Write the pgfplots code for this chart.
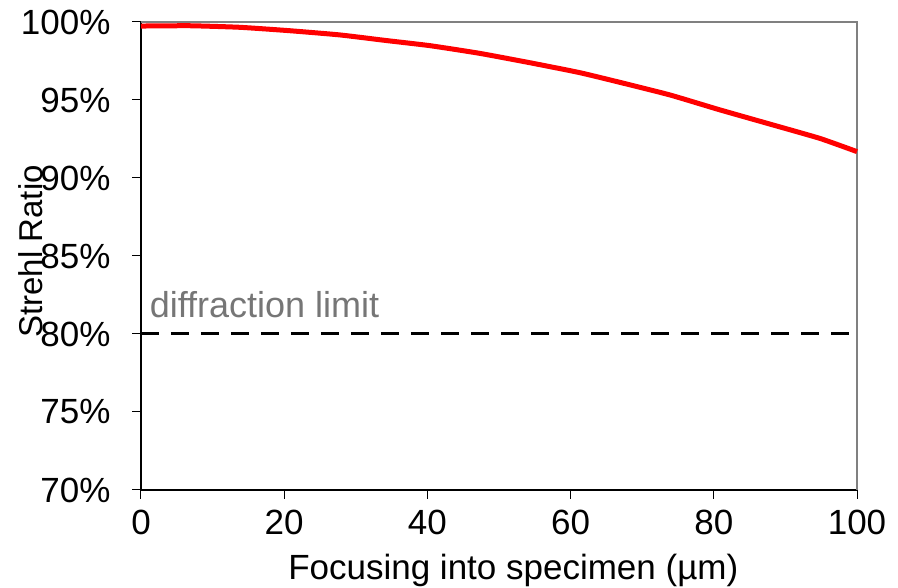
\documentclass[border=0pt]{standalone}
\usepackage{pgfplots}
\pgfplotsset{compat=1.18}
\usepackage{fontspec}
\setmainfont{Liberation Sans}
\definecolor{redline}{RGB}{255,0,0}
\definecolor{axgray}{RGB}{128,128,128}
\definecolor{labgray}{RGB}{118,118,118}
\begin{document}
\begin{tikzpicture}
\path[use as bounding box] (-141pt,-98pt) rectangle (757pt,490pt);
\begin{axis}[
  at={(0,0)}, anchor=south west,
  scale only axis, width=716pt, height=468pt,
  xmin=0, xmax=100, ymin=70, ymax=100,
  xtick={0,20,...,100}, ytick={70,75,...,100},
  yticklabel={\pgfmathprintnumber{\tick}\%},
  /pgf/number format/assume math mode=true,
  tick align=outside, major tick length=9pt,
  tick style={black, line width=1pt},
  every tick label/.append style={font=\fontsize{35}{40}\selectfont, black},
  xticklabel style={yshift=-8pt},
  yticklabel style={xshift=-18pt},
  axis line style={line width=1.3pt},
  axis x line*=bottom, axis y line*=left,
  xlabel={Focusing into specimen (µm)},
  xlabel style={font=\fontsize{35}{40}\selectfont, at={(axis description cs:0.52,0)}, anchor=base, yshift=-90pt},
  clip=false,
]
\draw[axgray, line width=1.3pt] (axis cs:0,100) -- (axis cs:100,100) -- (axis cs:100,70);
\addplot[redline, line width=5pt, smooth, tension=0.3] coordinates {
(0,99.74) (6.8,99.76) (13.8,99.66) (20.8,99.44) (27.8,99.17) (34.1,98.82) (40.4,98.48) (47.3,97.99) (54.3,97.39) (61.3,96.75) (67.6,96.05) (73.9,95.32) (80.9,94.36) (87.8,93.46) (94.8,92.54) (100,91.69)
};
\addplot[black, line width=3pt, dash pattern=on 18pt off 12pt] coordinates {(0,80) (100,80)};
\node[labgray, anchor=base west, inner sep=0pt, font=\fontsize{36}{40}\selectfont] at (axis cs:1.2,81.05) {diffraction limit};
\node[rotate=90, anchor=base, inner sep=0pt, font=\fontsize{33}{38}\selectfont] at (axis description cs:-0.138,0.51) {Strehl Ratio};
\end{axis}
\end{tikzpicture}
\end{document}
